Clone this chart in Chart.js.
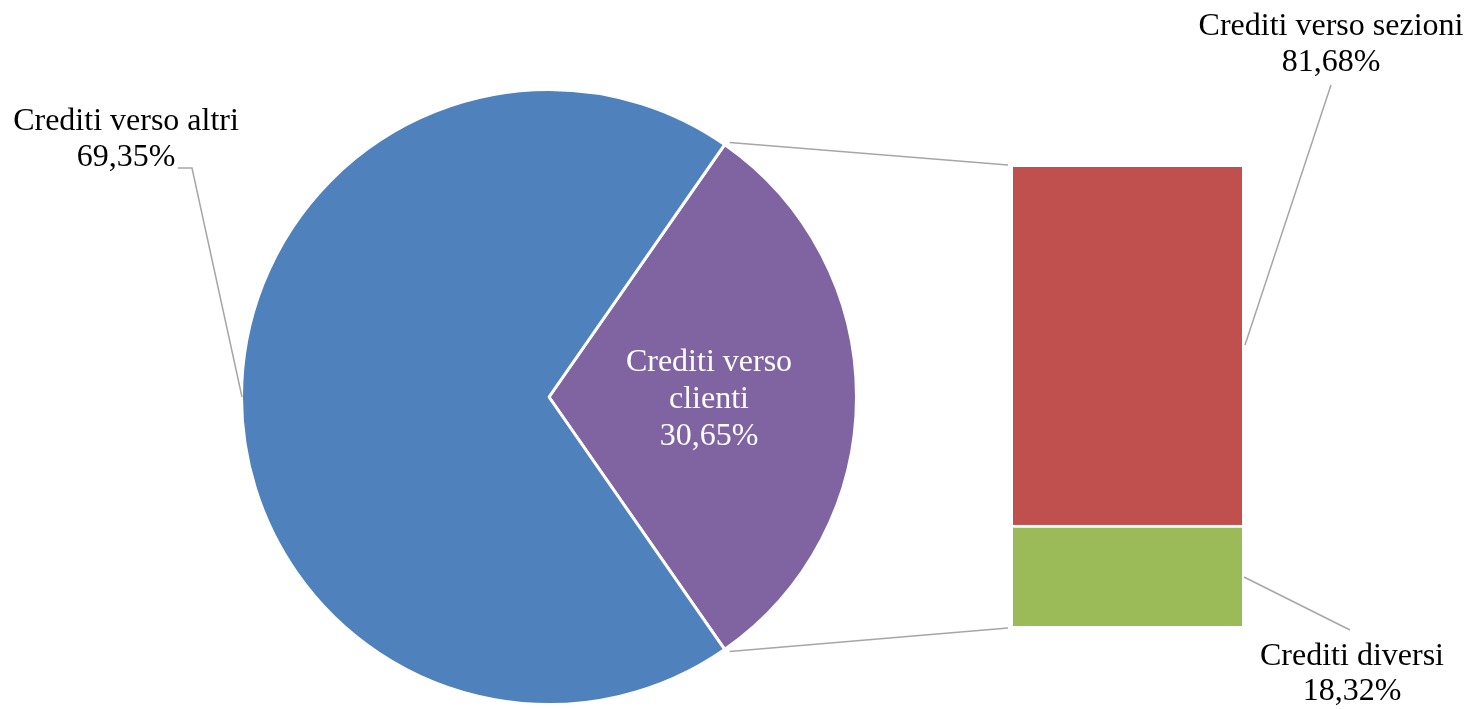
<!DOCTYPE html>
<html>
<head>
<meta charset="utf-8">
<script src="https://cdn.jsdelivr.net/npm/chart.js@4"></script>
<style>
    html, body { margin: 0; padding: 0; background: #ffffff; }
    #wrap { position: relative; width: 1471px; height: 709px; overflow: hidden; }
    #pieChart { position: absolute; left: 0; top: 0; }
    #barChart { position: absolute; left: 1013px; top: 167px; }
</style>
</head>
<body>
<div id="wrap">
    <canvas id="pieChart" width="1471" height="709"></canvas>
    <canvas id="barChart" width="229" height="459"></canvas>
</div>
<script>
// Torta: crediti verso clienti / crediti verso altri
const pieLabels = ['Crediti verso clienti', 'Crediti verso altri'];
const pieValues = [30.65, 69.35];
const pieColors = ['#8064a2', '#4f81bd'];

// Barra: dettaglio crediti verso clienti (altezze)
const barLabels = ['Crediti diversi', 'Crediti verso sezioni'];
const barValues = [22.0, 78.0];
const barPercents = ['18,32%', '81,68%'];
const barColors = ['#9bbb59', '#c0504d'];

const FONT = '32px "Liberation Serif", "Times New Roman", serif';
const LINE = '#a6a6a6';

document.addEventListener('DOMContentLoaded', function() {
    const barCtx = document.getElementById('barChart').getContext('2d');
    const barChart = new Chart(barCtx, {
        type: 'bar',
        data: {
            labels: [''],
            datasets: barValues.map(function(v, i) {
                return {
                    label: barLabels[i],
                    data: [v],
                    backgroundColor: barColors[i],
                    borderColor: '#ffffff',
                    borderWidth: i === 0 ? { top: 3 } : 0,
                    borderSkipped: false,
                    barPercentage: 1,
                    categoryPercentage: 1
                };
            })
        },
        options: {
            responsive: false,
            animation: false,
            layout: { padding: 0 },
            plugins: { legend: { display: false }, tooltip: { enabled: false } },
            scales: {
                x: { display: false, stacked: true },
                y: { display: false, stacked: true, min: 0, max: 100 }
            }
        }
    });

    const total = pieValues.reduce(function(a, b) { return a + b; }, 0);

    const labelsPlugin = {
        id: 'labelsPlugin',
        afterDraw: function(chart) {
            const ctx = chart.ctx;
            const arc = chart.getDatasetMeta(0).data[0];
            const r = arc.outerRadius;
            const ys = barChart.scales.y;
            const barTop = 167 + ys.getPixelForValue(100);
            const barBottom = 167 + ys.getPixelForValue(0);

            ctx.save();
            // linee di collegamento torta -> barra
            ctx.strokeStyle = LINE;
            ctx.lineWidth = 1.5;
            ctx.beginPath();
            ctx.moveTo(arc.x + Math.cos(arc.startAngle) * r + 5, arc.y + Math.sin(arc.startAngle) * r - 2);
            ctx.lineTo(1008, barTop - 2);
            ctx.moveTo(arc.x + Math.cos(arc.endAngle) * r + 5, arc.y + Math.sin(arc.endAngle) * r + 2);
            ctx.lineTo(1008, barBottom + 2);
            ctx.stroke();

            // linee guida etichette
            ctx.beginPath();
            ctx.moveTo(178, 168);
            ctx.lineTo(192, 168);
            ctx.lineTo(242, 397);
            ctx.moveTo(1331, 85);
            ctx.lineTo(1245, 345);
            ctx.moveTo(1244, 577);
            ctx.lineTo(1350, 630);
            ctx.stroke();

            // testi
            ctx.font = FONT;
            ctx.textAlign = 'center';
            ctx.textBaseline = 'middle';
            ctx.fillStyle = '#000000';
            const pct = function(v) { return v.toFixed(2).replace('.', ',') + '%'; };
            ctx.fillText(pieLabels[1], 126, 122);
            ctx.fillText(pct(pieValues[1]), 126, 158);
            ctx.fillText(barLabels[1], 1331, 27);
            ctx.fillText(barPercents[1], 1331, 63);
            ctx.fillText(barLabels[0], 1352, 657);
            ctx.fillText(barPercents[0], 1352, 692);
            ctx.fillStyle = '#ffffff';
            ctx.fillText('Crediti verso', 709, 363);
            ctx.fillText('clienti', 709, 400);
            ctx.fillText(pct(pieValues[0]), 709, 437);
            ctx.restore();
        }
    };

    const pieCtx = document.getElementById('pieChart').getContext('2d');
    new Chart(pieCtx, {
        type: 'pie',
        data: {
            labels: pieLabels,
            datasets: [{
                data: pieValues,
                backgroundColor: pieColors,
                borderColor: '#ffffff',
                borderWidth: 3
            }]
        },
        options: {
            responsive: false,
            animation: false,
            rotation: 90 - pieValues[0] / total * 180,
            layout: { padding: { left: 240, right: 613, top: 88, bottom: 3 } },
            plugins: { legend: { display: false }, tooltip: { enabled: false } }
        },
        plugins: [labelsPlugin]
    });
});
</script>
</body>
</html>
